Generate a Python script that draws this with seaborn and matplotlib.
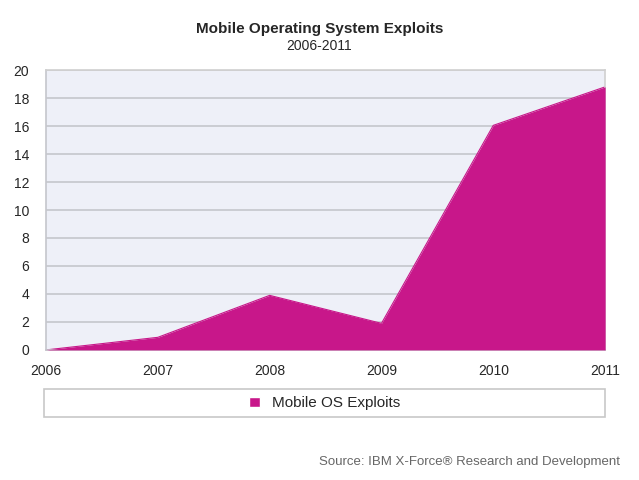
import matplotlib
matplotlib.use("Agg")
import matplotlib.pyplot as plt
import seaborn as sns
import pandas as pd
from matplotlib.patches import Patch, Rectangle

# data
years = [2006, 2007, 2008, 2009, 2010, 2011]
exploits = [0, 0.9, 3.9, 1.9, 16.05, 18.8]
y_ticks = list(range(0, 21, 2))

df = pd.DataFrame({"Year": years, "Exploits": exploits})

sns.set_style("white")
plt.rcParams["font.family"] = ["Liberation Sans", "DejaVu Sans"]

magenta = "#C8178A"
fig = plt.figure(figsize=(6.39, 4.8), dpi=100)
ax = fig.add_axes([0.072, 0.271, 0.875, 0.583])
ax.set_facecolor("#EEF0F8")

sns.lineplot(data=df, x="Year", y="Exploits", ax=ax, color=magenta, linewidth=0.8)
ax.fill_between(df["Year"], df["Exploits"], color=magenta, linewidth=0, zorder=3)

ax.set_xlim(2006, 2011)
ax.set_ylim(0, 20)
ax.set_yticks(y_ticks)
ax.set_xticks(years)
ax.set_xticklabels([str(y) for y in years])
ax.yaxis.grid(True, color="#C5C6CC", linewidth=1.2)
ax.set_axisbelow(True)
ax.set_xlabel("")
ax.set_ylabel("")
for side in ["top", "right"]:
    ax.spines[side].set_color("#D0D0D0")
    ax.spines[side].set_linewidth(1.2)
for side in ["left", "bottom"]:
    ax.spines[side].set_color("#C5C6CC")
    ax.spines[side].set_linewidth(1.2)
ax.tick_params(axis="y", length=8, width=1.2, color="#C5C6CC", labelsize=10, pad=4)
ax.tick_params(axis="x", length=6, width=1.2, color="#C5C6CC", labelsize=10, pad=4, direction="in")
ax.tick_params(axis="x", direction="out")

fig.text(0.5, 0.94, "Mobile Operating System Exploits", ha="center", va="center",
         fontsize=11, fontweight="bold")
fig.text(0.5, 0.905, "2006-2011", ha="center", va="center", fontsize=10)

# legend box
fig.patches.append(Rectangle((0.069, 0.131), 0.878, 0.058, transform=fig.transFigure,
                             facecolor="white", edgecolor="#C8C8C8", linewidth=1.2))
fig.legend(handles=[Patch(facecolor=magenta, label="Mobile OS Exploits")],
           loc="center", bbox_to_anchor=(0.508, 0.16), frameon=False, fontsize=11,
           handlelength=0.7, handleheight=0.7)

fig.text(0.97, 0.037, "Source: IBM X-Force\u00ae Research and Development", ha="right",
         va="center", fontsize=9.5, color="#666666")

fig.savefig("out.png", dpi=100)
